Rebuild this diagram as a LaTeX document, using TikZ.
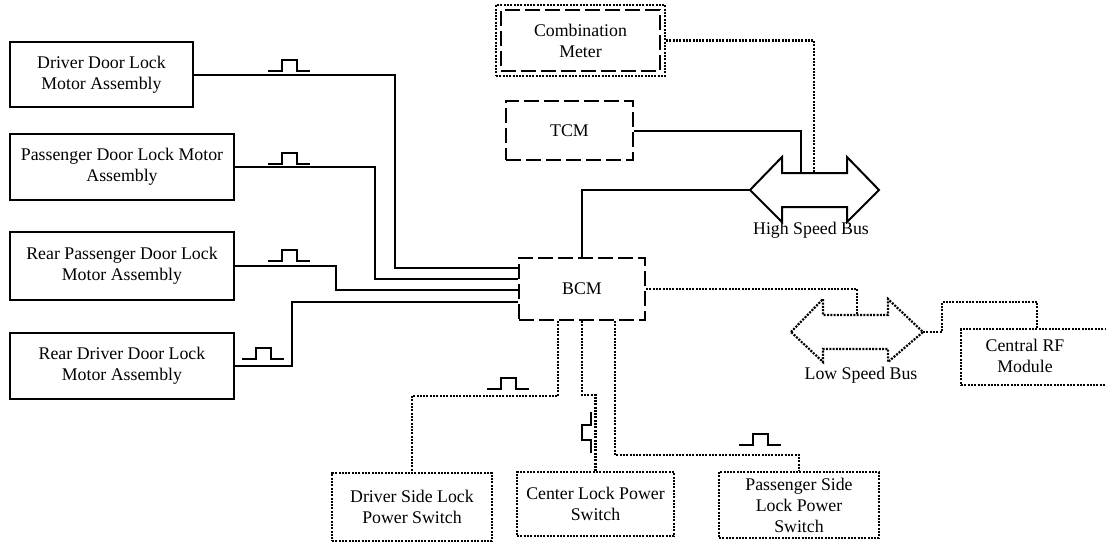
\documentclass[tikz,border=0pt]{standalone}
\usepackage{fontspec}
\setmainfont{Liberation Serif}
\begin{document}
\begin{tikzpicture}[x=1pt,y=-1pt,
  lbl/.style={font=\fontsize{17.8}{21}\selectfont, align=center},
  solidbox/.style={draw, line width=2pt, lbl, inner sep=0pt},
  dashbox/.style={draw, line width=2pt, dash pattern=on 15pt off 5pt, lbl, inner sep=0pt},
  dotbox/.style={draw, line width=2.2pt, dash pattern=on 2pt off 1.3pt, lbl, inner sep=0pt},
  wire/.style={line width=2pt},
  dotwire/.style={line width=2.2pt, dash pattern=on 2pt off 1.3pt},
  sqpulse/.pic={\draw[line width=2pt] (-21,0) -- (-7,0) -- (-7,-11) -- (8,-11) -- (8,0) -- (21,0);}
]
\useasboundingbox (0,0) rectangle (1106,542);

% door lock motor assemblies
\node[solidbox, minimum width=183, minimum height=65] (dd)  at (101.5,74.5) {Driver Door Lock\\Motor Assembly};
\node[solidbox, minimum width=224, minimum height=66] (pd)  at (122,167)   {Passenger Door Lock Motor\\Assembly};
\node[solidbox, minimum width=224, minimum height=68] (rpd) at (122,266)   {Rear Passenger Door Lock\\Motor Assembly};
\node[solidbox, minimum width=224, minimum height=66] (rdd) at (122,366)   {Rear Driver Door Lock\\Motor Assembly};

% modules
\node[dotbox, minimum width=169, minimum height=71] (cmo) at (580.5,40.5) {};
\node[dashbox, minimum width=159, minimum height=61] (cm) at (580.5,40.5) {Combination\\Meter};
\node[dashbox, minimum width=127, minimum height=59] (tcm) at (569.5,130.5) {TCM};
\node[dashbox, minimum width=126, minimum height=62] (bcm) at (582,289) {BCM};
\node[dotbox, minimum width=152, minimum height=56, anchor=north west] (rfbox) at (960,328) {};
\node[lbl] (rf) at (1025,356) {Central RF\\Module};

% lock power switches
\node[dotbox, minimum width=160, minimum height=68] (dsw) at (412,507) {Driver Side Lock\\Power Switch};
\node[dotbox, minimum width=157, minimum height=64] (csw) at (595.5,504) {Center Lock Power\\Switch};
\node[dotbox, minimum width=160, minimum height=66] (psw) at (799,505) {Passenger Side\\Lock Power\\Switch};

% high speed bus
\draw[line width=2pt] (750,190) -- (782,157) -- (782,173) -- (847,173) -- (847,157) -- (879,190)
  -- (847,222) -- (847,207) -- (782,207) -- (782,222) -- cycle;
\coordinate (hsL) at (750,190);
\coordinate (hsT1) at (801,173);
\coordinate (hsT2) at (814,173);
\node[lbl] (hsb) at (811,230) {High Speed Bus};

% low speed bus
\draw[dotwire] (791,332) -- (823,299) -- (823,315) -- (888,315) -- (888,299) -- (923,332)
  -- (888,362) -- (888,349) -- (823,349) -- (823,362) -- cycle;
\coordinate (lsT) at (857,315);
\coordinate (lsR) at (923,332);
\node[lbl] (lsb) at (861,375) {Low Speed Bus};

% motor wiring to BCM
\draw[wire] (dd.east)  -| (395,268) -- (bcm.west |- 395,268);
\draw[wire] (pd.east)  -| (375,279) -- (bcm.west |- 375,279);
\draw[wire] (rpd.east) -| (336,290) -- (bcm.west |- 336,290);
\draw[wire] (rdd.east) -| (292,302) -- (bcm.west |- 292,302);

% bus connections
\draw[wire] (bcm.north) |- (hsL);
\draw[wire] (tcm.east) -| (hsT1);
\draw[dotwire] (cmo.east) -| (hsT2);
\draw[dotwire] (bcm.east) -| (lsT);
\draw[dotwire] (lsR) -- (942,332) -- (942,302) -| (rfbox.north);

% switch wiring
\draw[dotwire] (bcm.south -| 558,0) -- (558,396) -| (dsw.north);
\draw[dotwire] (bcm.south) -- (582,395) -| (csw.north);
\draw[dotwire] (bcm.south -| 615,0) -- (615,455) -| (psw.north);

% signal pulses
\pic at (289,71) {sqpulse};
\pic at (289,164) {sqpulse};
\pic at (289,261) {sqpulse};
\pic at (263,359) {sqpulse};
\pic at (508,389) {sqpulse};
\pic at (760,445) {sqpulse};
\draw[wire] (591,412) -- (591,425) -- (582,425) -- (582,440) -- (591,440) -- (591,453);
\end{tikzpicture}
\end{document}
